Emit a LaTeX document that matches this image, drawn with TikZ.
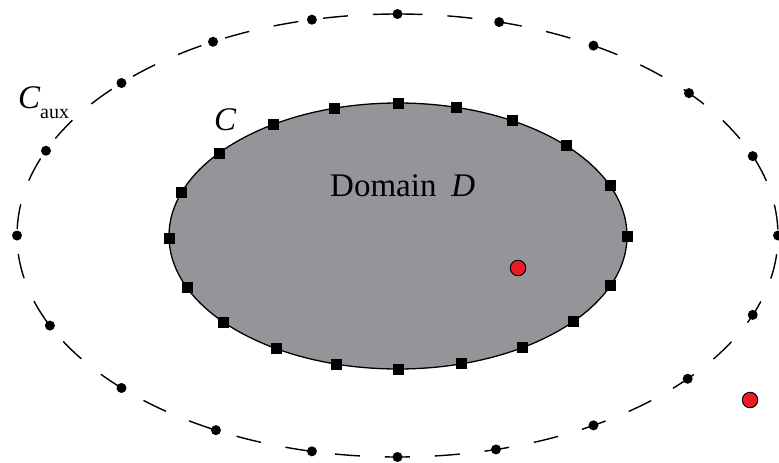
\documentclass[tikz,border=0pt]{standalone}
\usepackage{fontspec}
\setmainfont{Liberation Serif}
\definecolor{domgray}{RGB}{147,149,152}
\definecolor{ptred}{RGB}{237,28,36}
\begin{document}
\begin{tikzpicture}[x=1pt,y=-1pt,
  sqmark/.style={rectangle, fill=black, minimum size=11pt, inner sep=0pt},
  dotmark/.style={circle, fill=black, minimum size=10pt, inner sep=0pt},
  redpt/.style={circle, fill=ptred, draw=black, line width=1pt, minimum size=15.5pt, inner sep=0pt},
  lbl/.style={font=\fontsize{33}{40}\selectfont, inner sep=0pt}]
\useasboundingbox (0,0) rectangle (779,463);
\fill[white] (0,0) rectangle (779,463);
% inner domain
\coordinate (Ci) at (398,236);
\draw[fill=domgray, line width=1.3pt] (Ci) ellipse [x radius=229pt, y radius=133pt];
% auxiliary curve
\coordinate (Ctop) at (397.5,14);
\draw[line width=1.4pt, dash pattern=on 25pt off 25pt] (Ctop) arc[start angle=90, end angle=-270, x radius=380.5pt, y radius=221.5pt];
% collocation points on C
\foreach \t [count=\i] in {0,14.7,30,47.3,67.9,90,112,130,147,164,180,195.6,212,229.6,247,269,289,308.6,327,344}
  \node[sqmark] (s\i) at ({398+229*sin(\t)},{236-133*cos(\t)}) {};
% source points on C_aux
\foreach \t [count=\i] in {0,15.5,31,50,69,90,111,130.3,149,165,180,193,208.5,226.5,246,270,292.5,313.5,331,347}
  \node[dotmark] (d\i) at ({397.5+380.5*sin(\t)},{235.5-221.5*cos(\t)}) {};
% red points
\node[redpt] (p1) at (518,268) {};
\node[redpt] (p2) at (750,400) {};
% labels
\node[lbl, anchor=base west] (dom) at (330,196) {Domain\hspace{0.45em}{\itshape D}};
\node[lbl, anchor=base west] (lc) at (214,130) {\itshape C};
\node[lbl, anchor=base west] (lcaux) at (18,108) {{\itshape C}\raisebox{-10pt}{\fontsize{20}{24}\selectfont aux}};
\end{tikzpicture}
\end{document}
